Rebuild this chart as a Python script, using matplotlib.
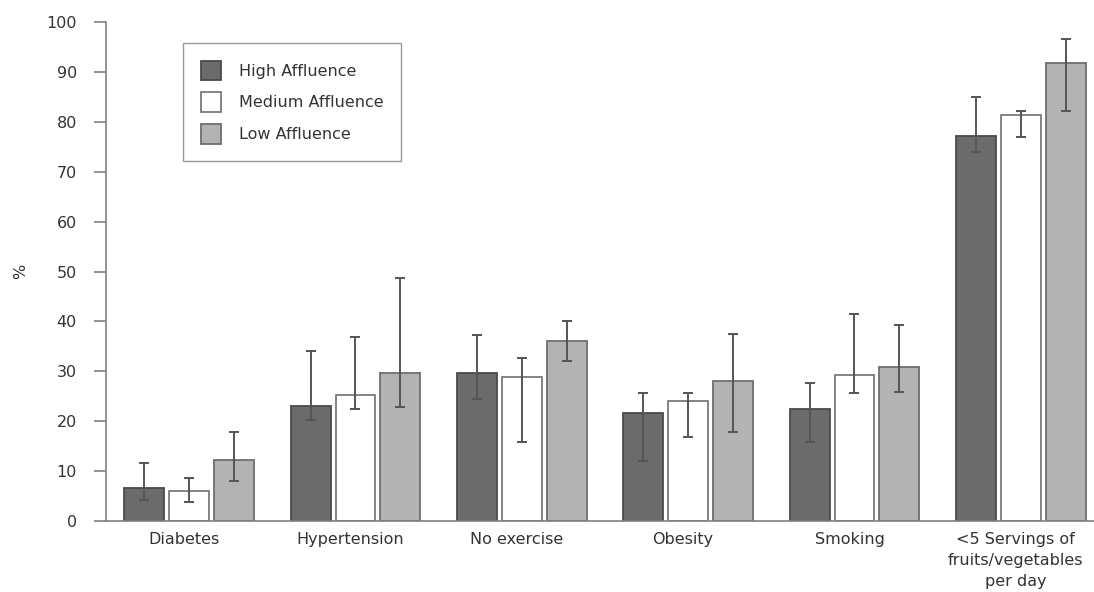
import numpy as np
import matplotlib
matplotlib.use("Agg")
import matplotlib.pyplot as plt

categories = ["Diabetes", "Hypertension", "No exercise", "Obesity", "Smoking",
              "<5 Servings of\nfruits/vegetables\nper day"]
groups = ["High Affluence", "Medium Affluence", "Low Affluence"]

# bar heights (%)
high = [6.7, 23.0, 29.6, 21.6, 22.4, 77.2]
medium = [6.0, 25.2, 28.8, 24.0, 29.2, 81.4]
low = [12.2, 29.6, 36.0, 28.0, 30.8, 91.7]

# confidence interval bounds (lower, upper)
high_lo = [4.3, 20.2, 24.4, 12.1, 15.9, 74.0]
high_hi = [11.6, 34.0, 37.2, 25.6, 27.6, 85.0]
medium_lo = [3.9, 22.4, 15.9, 16.8, 25.6, 76.9]
medium_hi = [8.7, 36.8, 32.7, 25.6, 41.5, 82.2]
low_lo = [8.0, 22.8, 32.1, 17.9, 25.9, 82.2]
low_hi = [17.9, 48.6, 40.0, 37.4, 39.2, 96.6]

plt.rcParams['font.family'] = ['DejaVu Sans']
text_color = '#333333'
fs = 11.5

fig = plt.figure(figsize=(10.94, 5.92), dpi=100)
ax = fig.add_axes([106 / 1094, 71 / 592, 988 / 1094, 499 / 592])

x = np.arange(len(categories))
width = 0.24
step = 0.27

series = [
    (high, high_lo, high_hi, '#6b6b6b', '#4a4a4a'),
    (medium, medium_lo, medium_hi, '#ffffff', '#7a7a7a'),
    (low, low_lo, low_hi, '#b3b3b3', '#6e6e6e'),
]

for i, (vals, lo, hi, fc, ec) in enumerate(series):
    vals = np.array(vals)
    yerr = np.vstack([vals - np.array(lo), np.array(hi) - vals])
    ax.bar(x + (i - 1) * step, vals, width, color=fc, edgecolor=ec,
           linewidth=1.3, label=groups[i], zorder=2)
    ax.errorbar(x + (i - 1) * step, vals, yerr=yerr, fmt='none',
                ecolor='#555555', elinewidth=1.4, capsize=3.5, capthick=1.4,
                zorder=3)

ax.set_xlim(-0.5, 5.44)
ax.set_ylim(0, 100)
ax.set_yticks(range(0, 101, 10))
ax.set_xticks(x - 0.03)
ax.set_xticklabels(categories, fontsize=fs, color=text_color, linespacing=1.5)
ax.tick_params(axis='x', length=0, pad=8)
ax.tick_params(axis='y', length=9, width=1.2, color='#808080',
               labelsize=fs, labelcolor=text_color, pad=12)
for s in ['top', 'right']:
    ax.spines[s].set_visible(False)
for s in ['left', 'bottom']:
    ax.spines[s].set_color('#808080')
    ax.spines[s].set_linewidth(1.2)

ax.set_ylabel('%', fontsize=fs, color=text_color, labelpad=13)

leg = ax.legend(loc='upper left', bbox_to_anchor=(0.078, 0.958),
                borderaxespad=0, fancybox=False, frameon=True,
                fontsize=fs, handlelength=1.3, handleheight=1.5,
                handletextpad=1.1, labelspacing=0.78,
                borderpad=1.1, labelcolor=text_color)
leg.get_frame().set_edgecolor('#808080')
leg.get_frame().set_linewidth(1.0)

fig.savefig('out.png', dpi=100)
